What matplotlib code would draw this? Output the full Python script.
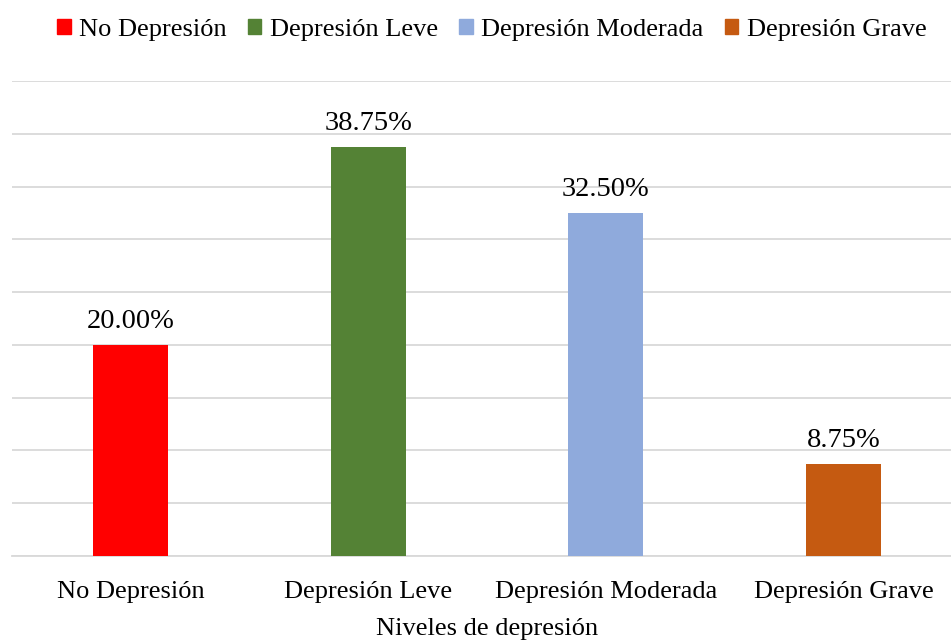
import matplotlib.pyplot as plt
from matplotlib.patches import Patch

# Datos
niveles = ["No Depresión", "Depresión Leve", "Depresión Moderada", "Depresión Grave"]
porcentajes = [20.00, 38.75, 32.50, 8.75]
colores = ["#FF0000", "#548235", "#8FAADC", "#C55A11"]

plt.rcParams["font.family"] = ["Liberation Serif", "DejaVu Serif"]

fig = plt.figure(figsize=(9.51, 6.41), dpi=100)
ax = fig.add_axes([11.7 / 951, 85 / 641, 950.7 / 951, 475 / 641])

x = range(len(niveles))
ax.bar(x, porcentajes, width=0.315, color=colores, zorder=3)

# Etiquetas de valor sobre cada barra
for i, v in enumerate(porcentajes):
    ax.text(i, v + 1.0, f"{v:.2f}%", ha="center", va="bottom", fontsize=20.5)

ax.set_xlim(-0.5, len(niveles) - 0.5)
ax.set_ylim(0, 45)
ax.set_yticks(range(0, 46, 5))
ax.yaxis.grid(True, color="#d9d9d9", linewidth=1.3, zorder=0)
ax.tick_params(axis="y", left=False, labelleft=False)
ax.tick_params(axis="x", bottom=False, labelsize=19, pad=14.5)
ax.set_xticks(list(x))
ax.set_xticklabels(niveles)
for s in ["top", "right", "left"]:
    ax.spines[s].set_visible(False)
ax.spines["bottom"].set_color("#d9d9d9")
ax.spines["bottom"].set_linewidth(1.3)

ax.set_xlabel("Niveles de depresión", fontsize=19, labelpad=11)

handles = [Patch(color=c, label=n) for c, n in zip(colores, niveles)]
fig.legend(handles=handles, loc="center", bbox_to_anchor=(0.517, 0.953), ncol=4,
           frameon=False, fontsize=19, handlelength=0.52, handleheight=0.52,
           handletextpad=0.32, columnspacing=0.8)

fig.savefig("out.png", dpi=100)
